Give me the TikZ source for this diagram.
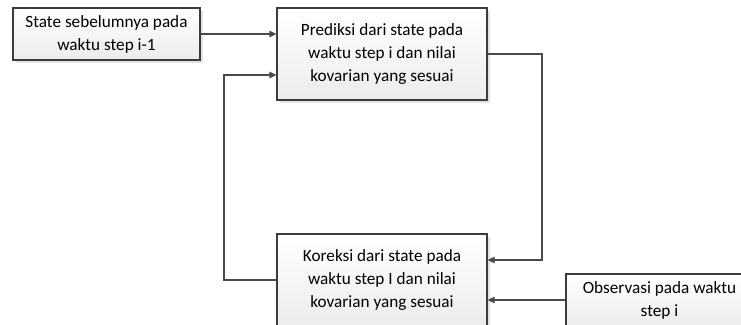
\documentclass[tikz,border=0pt]{standalone}
\usepackage{fontspec}
\setmainfont{Carlito}
\usepackage{tikz}
\usetikzlibrary{calc,arrows.meta,shadows}
\definecolor{linec}{HTML}{4A4A4A}
\definecolor{edgec}{HTML}{3C3C3C}
\definecolor{shadc}{HTML}{E2E2E2}
\definecolor{lowc}{HTML}{ECECEC}
\tikzset{
  ar/.style={-{Triangle[length=7pt,width=6.5pt]},line width=1.1pt,linec},
  box/.style={draw=edgec,line width=1.2pt,top color=white,bottom color=lowc,
    drop shadow={shadow xshift=2.5pt,shadow yshift=-2.5pt,fill=shadc,opacity=1},
    align=center,inner sep=0pt,font=\fontsize{17.2}{23}\selectfont}
}

\begin{document}
\begin{tikzpicture}[x=1pt,y=-1pt]
\useasboundingbox (0,0) rectangle (741,324);
\clip (0,0) rectangle (741,324);
\node[box,minimum width=187pt,minimum height=52pt] (prev) at (106.5,34) {State sebelumnya pada\\waktu step i-1};
\node[box,minimum width=210pt,minimum height=92pt] (pred) at (382,54) {Prediksi dari state pada\\waktu step i dan nilai\\kovarian yang sesuai};
\node[box,minimum width=210pt,minimum height=92pt] (kor) at (382,280) {Koreksi dari state pada\\waktu step I dan nilai\\kovarian yang sesuai};
\node[box,minimum width=187pt,minimum height=52pt] (obs) at (659.5,300) {Observasi pada waktu\\step i};
% sambungan
\coordinate (inB) at ($(kor.east)+(0,-20)$);
\coordinate (inA) at ($(pred.west)+(0,21)$);
\draw[ar] (prev.east) -- (prev.east -| pred.west);
\draw[ar] (pred.east) -| (542,0 |- inB) -- (inB);
\draw[ar] (kor.west) -| (224,0 |- inA) -- (inA);
\draw[ar] (obs.west) -- (obs.west -| kor.east);
\end{tikzpicture}
\end{document}
